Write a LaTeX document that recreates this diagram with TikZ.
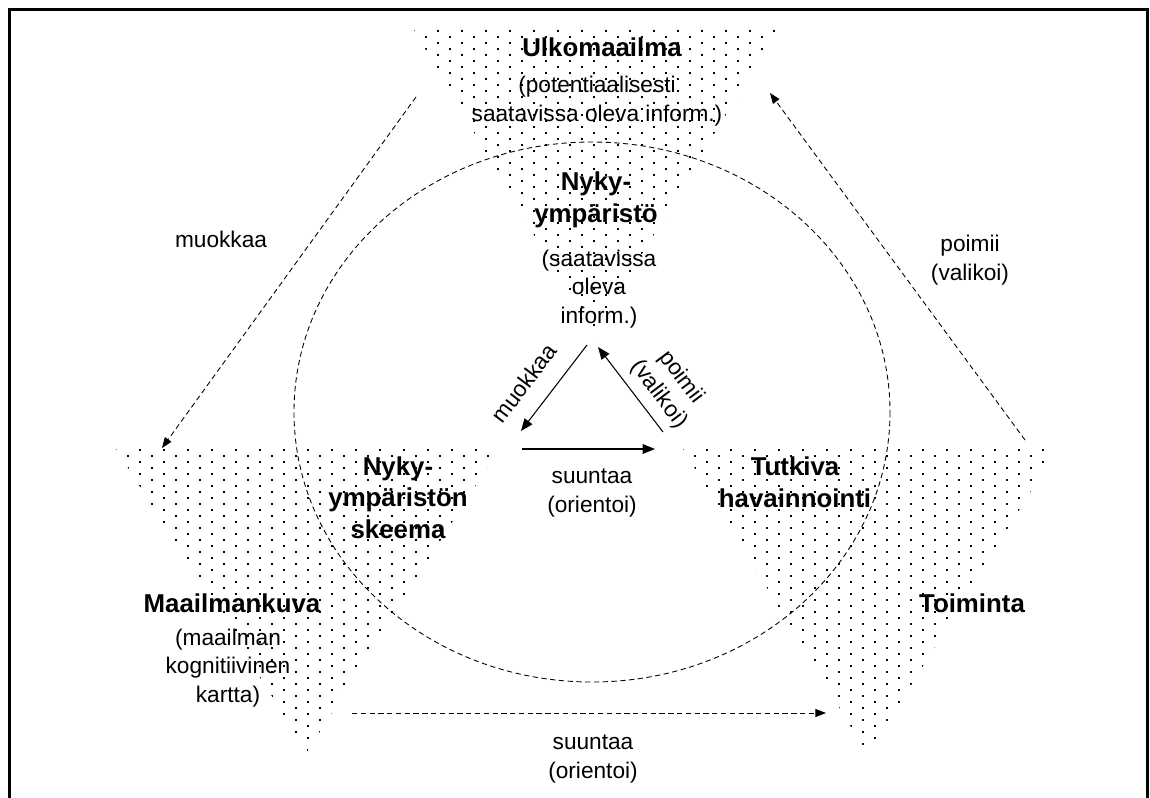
\documentclass[tikz,border=0pt]{standalone}
\usepackage{fontspec}
\setmainfont{Liberation Sans}
\usepackage{tikz}
\usetikzlibrary{arrows.meta}

\tikzset{
  title/.style={font=\bfseries\fontsize{14.7}{17.8}\selectfont, align=center, anchor=base, inner sep=0pt},
  info/.style={font=\fontsize{12.9}{16}\selectfont, align=center, anchor=base, inner sep=0pt},
  dasharrow/.style={-{Triangle[length=6pt,width=4.5pt]}, dash pattern=on 3pt off 2pt, line width=0.5pt},
  solidarrow/.style={-{Triangle[length=7pt,width=5.5pt]}, line width=0.6pt}
}

\begin{document}
\begin{tikzpicture}[x=0.02cm, y=-0.02cm]
    \useasboundingbox (0,0) rectangle (1150,798);

    % draw frame
    \draw[line width=1.5pt] (9.5,798) -- (9.5,9.5) -- (1147.5,9.5) -- (1147.5,798);

    % draw dotted triangles
    \foreach \lx/\rx/\ty/\ax/\ay in {413/778/28/593/336, 115/500/447/307/752, 682/1058/447/868/755}
    {
      \begin{scope}
        \clip (\lx,\ty) -- (\rx,\ty) -- (\ax,\ay) -- cycle;
        \foreach \r in {0,...,52}
        \foreach \c in {0,...,17}
        \fill ({\lx + 24*\c + 12*mod(\r,2)}, {\ty + 2 + 6*\r}) rectangle ++(2.3,2.3);
      \end{scope}
    }

    % draw circle
    \draw[dash pattern=on 3pt off 2pt, line width=0.5pt] (592,412) ellipse [x radius=298, y radius=270];

    % draw nodes (base = last line)
    \node[title] (ulko) at (602,56) {Ulkomaailma};
    \node[info] (ulkoinfo) at (597,121) {(potentiaalisesti\\saatavissa oleva inform.)};
    \node[title] (nyky) at (596,222) {Nyky-\\ympäristö};
    \node[info] (nykyinfo) at (599,323) {(saatavissa\\oleva\\inform.)};
    \node[title] (skeema) at (398,538) {Nyky-\\ympäristön\\skeema};
    \node[title] (kuva) at (232,612) {Maailmankuva};
    \node[info] (kuvainfo) at (228,702) {(maailman\\kognitiivinen\\kartta)};
    \node[title] (tutkiva) at (795,507) {Tutkiva\\havainnointi};
    \node[title] (toiminta) at (972,612) {Toiminta};

    % draw arrow labels
    \node[info] (muokout) at (221,247) {muokkaa};
    \node[info] (poimout) at (970,280) {poimii\\(valikoi)};
    \node[info] (suuntout) at (593,778) {suuntaa\\(orientoi)};
    \node[info] (suuntin) at (592,512) {suuntaa\\(orientoi)};
    \node[info, anchor=center, rotate=53] (muokin) at (524,383) {muokkaa};
    \node[info, anchor=center, rotate=-53] (poimin) at (670,386) {poimii\\(valikoi)};

    % arrow ends
    \coordinate (ulkoL) at (416,97);
    \coordinate (kuvaT) at (162,448);
    \coordinate (toimT) at (1025,440);
    \coordinate (ulkoR) at (770,93);
    \coordinate (kuvaB) at (352,713);
    \coordinate (toimB) at (826,713);
    \coordinate (nykyB) at (587,345);
    \coordinate (nykyC) at (598,347);
    \coordinate (skeemaT) at (521,431);
    \coordinate (skeemaR) at (522,449);
    \coordinate (tutkivaL) at (655,449);
    \coordinate (tutkivaT) at (663,432);

    % draw arrows
    \draw[dasharrow] (ulkoL) -- (kuvaT);
    \draw[dasharrow] (toimT) -- (ulkoR);
    \draw[dasharrow] (kuvaB) -- (toimB);
    \draw[solidarrow] (nykyB) -- (skeemaT);
    \draw[solidarrow] (tutkivaT) -- (nykyC);
    \draw[solidarrow] (skeemaR) -- (tutkivaL);

\end{tikzpicture}
\end{document}
